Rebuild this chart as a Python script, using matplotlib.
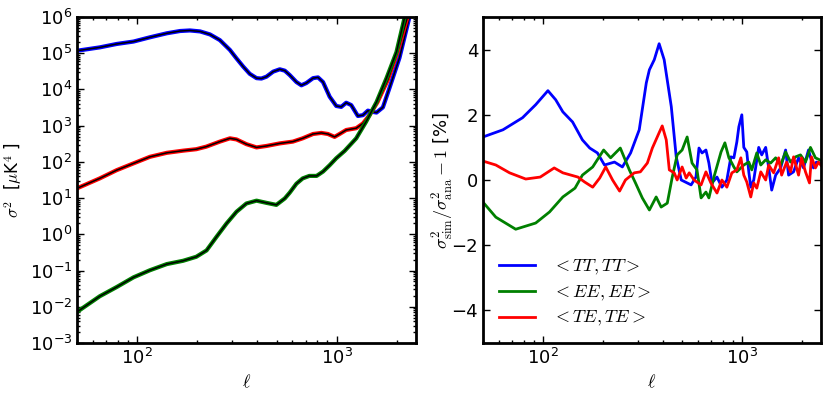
import numpy as np
import matplotlib
matplotlib.use("Agg")
from matplotlib import pyplot as plt
from matplotlib.ticker import LogLocator, FuncFormatter, NullFormatter
from matplotlib.font_manager import FontProperties

#%% Data
# left panel : variance sigma^2 [muK^4]
ell_tt_var = [50, 65, 79, 96, 116, 141, 164, 184, 207, 232, 260, 292, 315, 340, 367,
              397, 420, 445, 481, 519, 550, 582, 629, 666, 705, 762, 807, 855, 923,
              996, 1055, 1117, 1184, 1278, 1355, 1435, 1520, 1585, 1706, 1841, 2065,
              2266, 2500]
var_tt = [1.17e5, 1.45e5, 1.8e5, 2.1e5, 2.75e5, 3.55e5, 4.1e5, 4.25e5, 4.0e5, 3.3e5,
          2.3e5, 1.23e5, 7.2e4, 4.3e4, 2.7e4, 2.05e4, 2.0e4, 2.25e4, 3.1e4, 3.6e4,
          3.3e4, 2.5e4, 1.6e4, 1.3e4, 1.5e4, 2.05e4, 2.15e4, 1.6e4, 6.3e3, 3.5e3,
          3.3e3, 4.3e3, 3.7e3, 1.85e3, 1.95e3, 2.6e3, 2.4e3, 2.3e3, 3.2e3, 1.1e4,
          7.4e4, 6.0e5, 5.5e6]

ell_te_var = [50, 65, 79, 96, 116, 141, 170, 198, 222, 260, 292, 315, 353, 397, 445,
              519, 604, 676, 762, 838, 905, 977, 1035, 1117, 1254, 1355, 1462, 1603,
              1803, 2018, 2244, 2500]
var_te = [18.6, 35, 59, 91, 138, 178, 204, 224, 263, 363, 447, 417, 309, 251, 275,
          324, 363, 447, 589, 631, 589, 490, 589, 759, 851, 1150, 1950, 4470, 1.8e4,
          1.07e5, 8.3e5, 8.9e6]

ell_ee_var = [50, 65, 79, 96, 116, 141, 170, 198, 223, 250, 281, 315, 353, 397, 445,
              499, 550, 582, 629, 676, 730, 794, 855, 923, 996, 1096, 1254, 1406, 1585,
              1778, 1995, 2188, 2500]
var_ee = [0.0072, 0.0195, 0.035, 0.065, 0.102, 0.151, 0.186, 0.24, 0.36, 0.85, 2.0,
          4.2, 7.1, 8.5, 7.4, 6.5, 9.8, 14.1, 25, 35, 41, 41, 54, 81, 126, 200, 447,
          1290, 4470, 2.04e4, 1.07e5, 9.3e5, 2e7]

# right panel : relative difference [%]
ell_tt = [50, 63, 79, 92, 106, 116, 126, 141, 158, 172, 188, 204, 229, 251, 276, 305,
          331, 343, 363, 384, 407, 442, 468, 496, 556, 588, 609, 631, 660, 683, 708,
          750, 794, 841, 881, 912, 944, 966, 1000, 1023, 1059, 1084, 1109, 1148, 1216,
          1259, 1318, 1365, 1413, 1479, 1567, 1660, 1718, 1820, 1928, 2042, 2163, 2291,
          2371, 2500]
d_tt = [1.32, 1.54, 1.91, 2.31, 2.74, 2.46, 2.09, 1.78, 1.23, 0.98, 0.83, 0.46, 0.55,
        0.40, 0.83, 1.54, 2.98, 3.38, 3.69, 4.18, 3.69, 2.25, 0.71, 0.0, -0.15, 0.09,
        0.98, 0.83, 0.92, 0.52, -0.09, 0.09, -0.22, 0.0, 0.71, 0.68, 1.17, 1.63, 2.0,
        1.0, 0.86, 0.25, -0.22, 0.0, 1.0, 0.77, 1.0, 0.37, -0.31, 0.15, 0.37, 0.92,
        0.15, 0.25, 0.68, 0.37, 0.92, 0.37, 0.55, 0.5]

ell_ee = [50, 58, 73, 92, 108, 126, 145, 158, 178, 202, 219, 245, 272, 292, 316, 343,
          371, 393, 422, 447, 473, 501, 531, 562, 595, 624, 660, 683, 724, 786, 822,
          861, 891, 912, 944, 1023, 1084, 1122, 1189, 1245, 1318, 1396, 1479, 1567,
          1660, 1758, 1862, 1972, 2089, 2213, 2344, 2500]
d_ee = [-0.68, -1.14, -1.51, -1.32, -0.98, -0.52, -0.25, 0.15, 0.40, 0.92, 0.68, 0.98,
        0.31, -0.09, -0.55, -0.92, -0.52, -0.83, -0.71, 0.09, 0.77, 0.92, 1.32, 0.52,
        0.31, -0.55, -0.37, -0.55, 0.09, 0.86, 1.14, 0.68, 0.52, 0.40, 0.25, 0.46,
        0.55, 0.31, 0.83, 0.46, 0.62, 0.52, 0.68, 0.46, 0.86, 0.55, 0.71, 0.77, 0.55,
        1.0, 0.68, 0.6]

ell_te = [50, 58, 68, 82, 97, 114, 126, 150, 162, 178, 193, 207, 224, 243, 260, 288,
          309, 335, 355, 384, 398, 417, 432, 457, 473, 501, 525, 544, 575, 624, 660,
          699, 750, 794, 841, 891, 944, 989, 1023, 1059, 1109, 1148, 1189, 1245, 1318,
          1365, 1445, 1531, 1585, 1679, 1758, 1820, 1928, 1995, 2089, 2188, 2239, 2344,
          2427, 2500]
d_te = [0.58, 0.46, 0.22, 0.03, 0.09, 0.37, 0.22, 0.09, -0.06, -0.22, 0.06, 0.40, 0.0,
        -0.34, 0.0, 0.22, 0.25, 0.52, 0.98, 1.45, 1.66, 1.23, 0.31, 0.22, 0.0, 0.40,
        0.06, 0.22, 0.0, -0.15, 0.25, -0.09, -0.40, 0.0, -0.22, 0.22, 0.31, 0.68, 0.15,
        -0.06, -0.52, -0.09, -0.25, 0.25, 0.0, 0.46, 0.22, 0.68, 0.15, 0.55, 0.25, 0.71,
        0.15, 0.68, 0.25, -0.09, 0.71, 0.37, 0.55, 0.45]

labels = [r"$<TT,TT>$", r"$<EE,EE>$", r"$<TE,TE>$"]
cols = ["#0000ff", "#008000", "#ff0000"]

#%% Style
plt.rcParams["font.family"] = "DejaVu Sans"
plt.rcParams["mathtext.fontset"] = "dejavusans"
plt.rcParams["font.size"] = 12

logfmt = FuncFormatter(lambda v, p: r"$\mathregular{10^{%d}}$" % round(np.log10(v)))


def style_axes(ax):
    for s in ax.spines.values():
        s.set_linewidth(2)
    ax.tick_params(which="both", direction="in", top=True, right=True, labelsize=13)
    ax.tick_params(which="major", length=5, width=1)
    ax.tick_params(which="minor", length=2.5, width=1)
    ax.set_xscale("log")
    ax.set_xlim(50, 2500)
    ax.xaxis.set_minor_locator(LogLocator(base=10, subs=np.arange(2, 10), numticks=100))
    ax.xaxis.set_minor_formatter(NullFormatter())
    ax.xaxis.set_major_formatter(logfmt)
    ax.set_xlabel(r"$\ell$", fontsize=13, math_fontfamily="cm")


#%% Display
fig = plt.figure(figsize=(8.3, 3.95), dpi=100)
ax1 = fig.add_axes([77/830, 1-343/395, 339/830, 326/395])
ax2 = fig.add_axes([483/830, 1-343/395, 338/830, 326/395])

# left: simulated (colour) and analytic (black) variances
for ell, v, c in [(ell_tt_var, var_tt, cols[0]), (ell_te_var, var_te, cols[2]),
                  (ell_ee_var, var_ee, cols[1])]:
    ax1.plot(ell, v, color=c, lw=3.0, solid_joinstyle="round")
    ax1.plot(ell, v, color="k", lw=1.1, solid_joinstyle="round")
style_axes(ax1)
ax1.set_yscale("log")
ax1.set_ylim(1e-3, 1e6)
ax1.yaxis.set_minor_locator(LogLocator(base=10, subs=np.arange(2, 10), numticks=100))
ax1.yaxis.set_minor_formatter(NullFormatter())
ax1.yaxis.set_major_formatter(logfmt)
ax1.set_ylabel(r"$\sigma^2$  [$\mu$K$^4$ ]", fontsize=12, math_fontfamily="cm")

# right: relative difference
ax2.plot(ell_tt, d_tt, color=cols[0], lw=2, label=labels[0])
ax2.plot(ell_ee, d_ee, color=cols[1], lw=2, label=labels[1])
ax2.plot(ell_te, d_te, color=cols[2], lw=2, label=labels[2])
style_axes(ax2)
ax2.set_ylim(-5, 5)
ax2.set_yticks([-4, -2, 0, 2, 4])
ax2.set_ylabel(r"$\sigma^2_{\rm sim}/\sigma^2_{\rm ana}-1$ [%]", fontsize=13,
               math_fontfamily="cm", labelpad=-3)
ax2.legend(loc="lower left", frameon=False, handlelength=2.0, handletextpad=0.9,
           labelspacing=0.35, bbox_to_anchor=(0.0, -0.005),
           prop=FontProperties(size=13, math_fontfamily="cm"))

plt.savefig("out.png", dpi=100)
